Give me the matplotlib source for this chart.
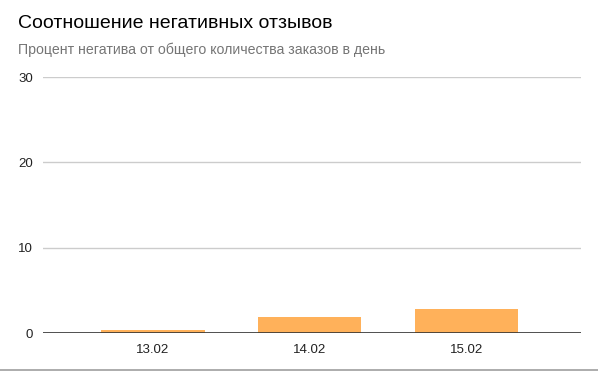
import matplotlib
matplotlib.use('Agg')
import matplotlib.pyplot as plt
from matplotlib.lines import Line2D

plt.rcParams['font.family'] = ['Liberation Sans', 'DejaVu Sans']

# Data
dates = ['13.02', '14.02', '15.02']
negative_pct = [0.3, 1.9, 2.8]
y_ticks = [0, 10, 20, 30]

title = 'Соотношение негативных отзывов'
subtitle = 'Процент негатива от общего количества заказов в день'

W, H = 598, 371
fig = plt.figure(figsize=(W / 100, H / 100), dpi=100)

# plot area in pixels: x 43..581, y 77..333
left, right, top, bottom = 43, 581, 77, 333
ax = fig.add_axes([left / W, 1 - bottom / H, (right - left) / W, (bottom - top) / H])

x = range(len(dates))
ax.bar(x, negative_pct, width=0.66, color='#ffb15a', zorder=3)

ax.set_xlim(-0.70, 2.73)
ax.set_ylim(0, 30)
ax.set_yticks(y_ticks)
ax.set_xticks(list(x))
ax.set_xticklabels(dates)

ax.grid(axis='y', color='#cccccc', linewidth=1, zorder=0)
ax.axhline(0, color='#333333', linewidth=1.2, zorder=4)

for s in ax.spines.values():
    s.set_visible(False)

ax.tick_params(axis='both', length=0, labelsize=9.5, colors='#222222')
ax.tick_params(axis='y', pad=7)
ax.tick_params(axis='x', pad=8)

fig.text(18 / W, 1 - 23 / H, title, fontsize=14, color='#000000', va='center', ha='left')
fig.text(18 / W, 1 - 50 / H, subtitle, fontsize=10.2, color='#757575', va='center', ha='left')

# bottom border of the chart box
fig.add_artist(Line2D([0, 1], [1 - 369.5 / H, 1 - 369.5 / H], color='#9e9e9e', linewidth=1.2))

fig.savefig('out.png', dpi=100)
